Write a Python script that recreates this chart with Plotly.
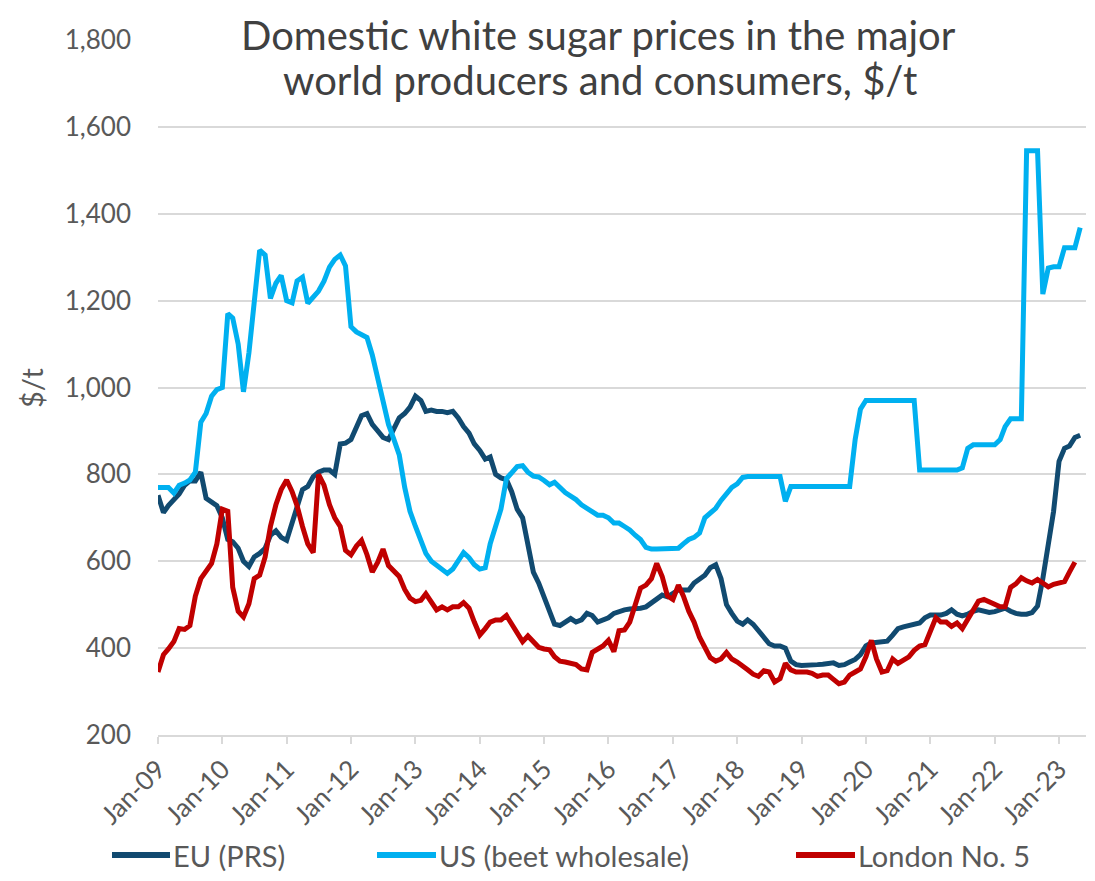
import plotly.graph_objects as go
import pandas as pd

# Monthly series, Jan-2009 onward ($/t)
eu_prs = [
    752, 712, 728, 740, 755, 775, 785, 785, 805, 745, 735, 728,
    700, 650, 645, 630, 600, 588, 610, 618, 630, 660, 670, 655,
    648, 690, 725, 765, 772, 795, 805, 810, 810, 800, 870, 872,
    880, 910, 935, 940, 915, 900, 885, 880, 905, 930, 940, 955,
    980, 970, 945, 948, 945, 945, 942, 945, 930, 910, 895, 870,
    855, 835, 840, 800, 792, 788, 760, 720, 700, 640, 575, 550,
    515, 480, 455, 452, 460, 468, 460, 465, 480, 475, 460, 465,
    470, 480, 485, 488, 490, 490, 492, 495, 505, 515, 522, 518,
    525, 534, 534, 534, 550, 560, 568, 585, 592, 560, 500, 480,
    462, 455, 465, 455, 438, 425, 410, 405, 405, 400, 370, 362,
    360, 360, 362, 362, 363, 366, 366, 360, 362, 368, 374, 385,
    405, 412, 413, 414, 416, 430, 445, 449, 452, 453, 458, 470,
    476, 476, 476, 480, 488, 478, 474, 478, 485, 488, 484, 482,
    484, 488, 492, 485, 480, 478, 478, 482, 497, 560, 640, 715,
    830, 860, 865, 885, 890,
]

us_beet = [
    770, 770, 770, 757, 775, 780, 787, 805, 920, 940, 980, 995,
    1000, 1170, 1160, 1100, 990, 1080, 1200, 1316, 1305, 1205, 1240, 1258,
    1200, 1195, 1245, 1254, 1194, 1210, 1222, 1245, 1277, 1295, 1305, 1280,
    1140, 1128, 1122, 1115, 1075, 1025, 965, 915, 880, 845, 770, 715,
    680, 645, 618, 600, 590, 582, 572, 582, 600, 620, 608, 592,
    582, 585, 640, 685, 720, 790, 805, 818, 820, 805, 796, 794,
    786, 776, 782, 770, 758, 750, 742, 730, 722, 712, 706, 706,
    700, 688, 688, 680, 672, 660, 650, 632, 628, 628, 628, 628,
    628, 630, 640, 650, 655, 665, 700, 710, 722, 740, 755, 770,
    778, 793, 795, 795, 795, 795, 795, 795, 795, 738, 772, 772,
    772, 772, 772, 772, 772, 772, 772, 772, 772, 772, 880, 950,
    970, 970, 970, 970, 970, 970, 970, 970, 970, 970, 810, 810,
    810, 810, 810, 810, 810, 810, 815, 860, 868, 868, 868, 868,
    868, 880, 910, 928, 928, 928, 1545, 1545, 1545, 1215, 1275, 1278,
    1278, 1322, 1322, 1322, 1368,
]

london_no5 = [
    345, 385, 398, 415, 445, 443, 452, 520, 560, 578, 595, 640,
    720, 715, 540, 485, 472, 502, 560, 568, 610, 680, 730, 765,
    787, 760, 728, 680, 640, 620, 800, 775, 730, 700, 680, 625,
    615, 635, 648, 615, 575, 598, 628, 590, 578, 565, 535, 515,
    507, 510, 525, 505, 488, 495, 488, 495, 495, 505, 492, 460,
    430, 445, 460, 465, 465, 475, 455, 435, 415, 428, 415, 402,
    398, 396, 380, 370, 368, 365, 362, 352, 350, 390, 398, 405,
    418, 392, 440, 442, 460, 500, 538, 545, 560, 595, 565, 520,
    512, 545, 520, 485, 460, 425, 400, 378, 370, 375, 390, 375,
    368, 360, 350, 340, 335, 348, 345, 322, 330, 365, 350, 345,
    345, 345, 342, 335, 338, 338, 328, 318, 322, 338, 345, 352,
    380, 418, 375, 345, 348, 375, 365, 372, 380, 395, 405, 408,
    440, 470, 460, 460, 450, 458, 445, 465, 490, 508, 512, 506,
    498, 495, 495, 540, 548, 562, 555, 550, 558, 548, 541, 547,
    550, 553, 575, 598,
]

series_names = ["EU (PRS)", "US (beet wholesale)", "London No. 5"]
series_colors = ["#114a70", "#00b0f0", "#c00000"]
tick_years = list(range(2009, 2024))
tick_labels = [f"Jan-{y % 100:02d}" for y in tick_years]

FONT = "Lato, 'Open Sans', sans-serif"
TXT = "#595959"

fig = go.Figure()
for name, vals, col in zip(series_names, [eu_prs, us_beet, london_no5], series_colors):
    dates = pd.date_range("2009-01-01", periods=len(vals), freq="MS")
    fig.add_trace(go.Scatter(x=dates, y=vals, mode="lines", name=name,
                             line=dict(color=col, width=5), showlegend=False))

# page body has an 8px margin -> compensate so plot area sits at x 158..1086, y 40..735
fig.update_layout(
    width=1095, height=881,
    margin=dict(l=150, r=17, t=32, b=154),
    paper_bgcolor="white", plot_bgcolor="white",
    font=dict(family=FONT, color=TXT),
)
fig.update_xaxes(
    type="date", range=["2009-01-01", "2023-06-03"],
    tickvals=[f"{y}-01-01" for y in tick_years], ticktext=tick_labels,
    tickangle=-45, ticks="outside", ticklen=7, tickcolor="#d9d9d9", tickwidth=1.5,
    showline=True, linecolor="#d9d9d9", linewidth=1.5, showgrid=False, zeroline=False,
    tickfont=dict(size=26, color=TXT, family=FONT),
)
fig.update_yaxes(
    range=[200, 1800], dtick=200, tickformat=",",
    showgrid=True, gridcolor="#d9d9d9", gridwidth=1.5, zeroline=False, showline=False,
    ticks="", ticklabelstandoff=26,
    tickfont=dict(size=26, color=TXT, family=FONT),
)

def px_x(px):
    return (px - 158) / 928.0

def px_y(py):
    return (735 - py) / 695.0

# Title (two lines)
fig.add_annotation(text="Domestic white sugar prices in the major", xref="paper", yref="paper",
                   x=px_x(598), y=px_y(10), xanchor="center", yanchor="top", showarrow=False,
                   bgcolor="white", borderpad=0, font=dict(size=40, color="#404040", family=FONT))
fig.add_annotation(text="world producers and consumers, $/t", xref="paper", yref="paper",
                   x=px_x(600), y=px_y(80), xanchor="center", yanchor="middle", showarrow=False,
                   font=dict(size=40, color="#404040", family=FONT))
# Y axis title
fig.add_annotation(text="$/t", xref="paper", yref="paper", x=px_x(32), y=px_y(388),
                   xanchor="center", yanchor="middle", textangle=-90, showarrow=False,
                   font=dict(size=29, color=TXT, family=FONT))

# Legend
legend_pos = [(112, 170), (377, 436), (796, 855)]
for (x0, x1), name, col in zip(legend_pos, series_names, series_colors):
    fig.add_shape(type="line", xref="paper", yref="paper", x0=px_x(x0), x1=px_x(x1),
                  y0=px_y(855), y1=px_y(855), line=dict(color=col, width=6))
    fig.add_annotation(text=name, xref="paper", yref="paper", x=px_x(x1 + 1), y=px_y(855),
                       xanchor="left", yanchor="middle", showarrow=False,
                       font=dict(size=29, color=TXT, family=FONT))

fig.write_html("out.html")
